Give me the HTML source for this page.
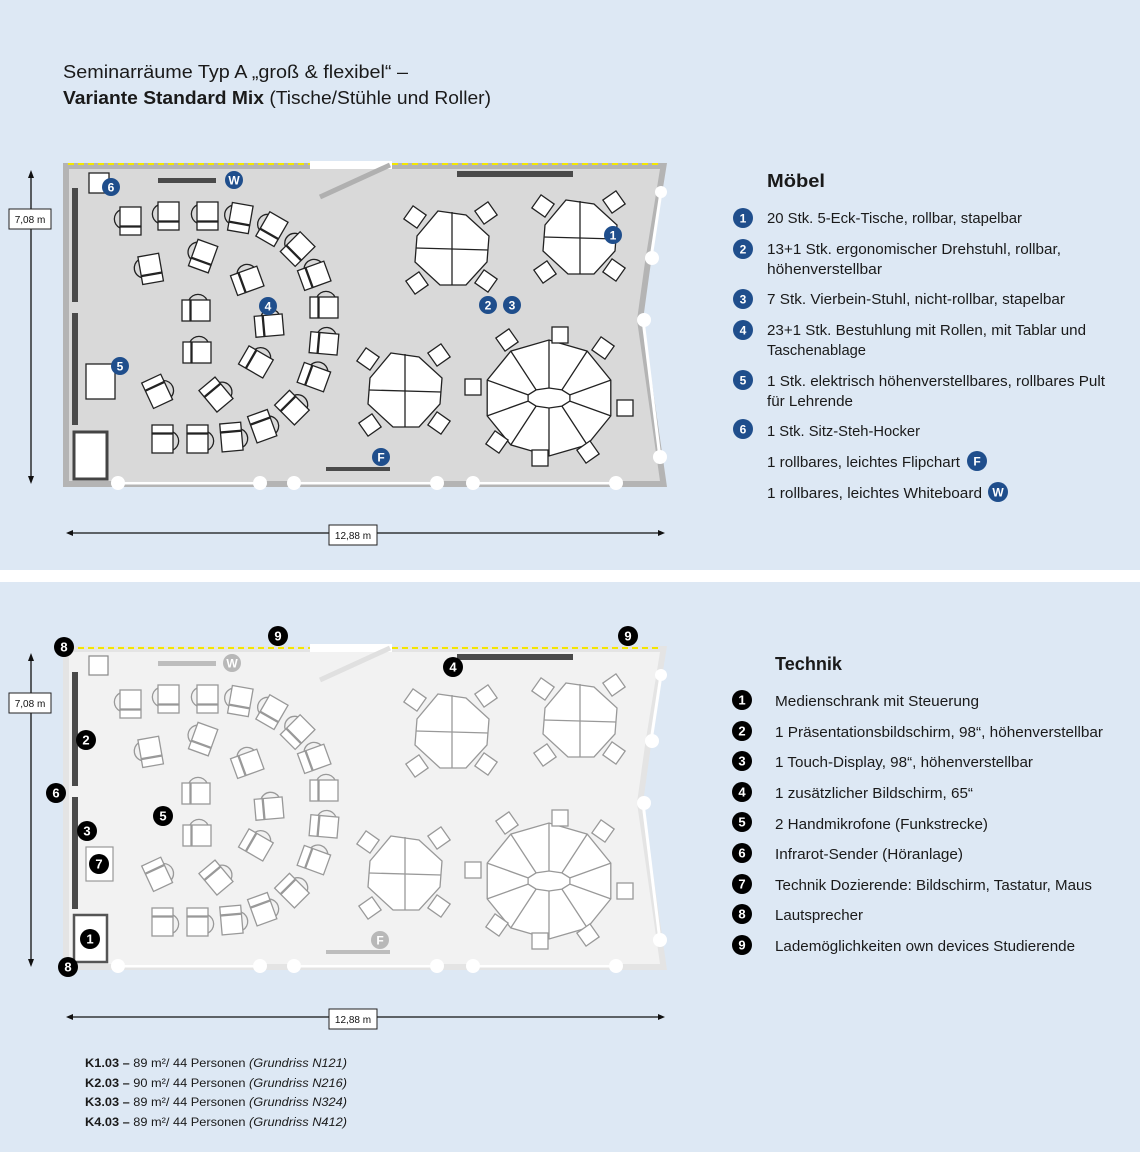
<!DOCTYPE html>
<html><head><meta charset="utf-8"><style>
html,body{margin:0;padding:0;background:#dde8f4;}
svg{display:block;font-family:"Liberation Sans",sans-serif;}
</style></head><body>
<svg width="1140" height="1152" viewBox="0 0 1140 1152" xmlns="http://www.w3.org/2000/svg" xmlns:xlink="http://www.w3.org/1999/xlink">
<defs>
<g id="ch" fill="#fff" stroke-width="1.3">
  <path d="M-10,-10 A10,10 0 0 0 -10,8" fill="none"/>
  <rect x="-10" y="-13" width="21" height="19"/>
  <rect x="-10" y="7" width="21" height="8"/>
</g>
<rect id="sq" x="-8" y="-8" width="16" height="16" fill="#fff" stroke-width="1.3"/>
<g id="pc" fill="#fff" stroke-width="1.3">
  <polygon points="-14,-37 14,-33 37,-12 35,14 14,37 -12,37 -37,14 -35,-12"/>
  <line x1="0" y1="-36" x2="0" y2="37"/><line x1="-36" y1="0" x2="36" y2="2"/>
  <use xlink:href="#sq" transform="translate(-37,-31) rotate(35)"/>
  <use xlink:href="#sq" transform="translate(34,-35) rotate(-35)"/>
  <use xlink:href="#sq" transform="translate(-35,35) rotate(-35)"/>
  <use xlink:href="#sq" transform="translate(34,33) rotate(35)"/>
</g>
<g id="furn">
  <use xlink:href="#ch" transform="translate(130,220) rotate(0)"/>
  <use xlink:href="#ch" transform="translate(168,215) rotate(0)"/>
  <use xlink:href="#ch" transform="translate(207,215) rotate(0)"/>
  <use xlink:href="#ch" transform="translate(240,217) rotate(10)"/>
  <use xlink:href="#ch" transform="translate(272,228) rotate(30)"/>
  <use xlink:href="#ch" transform="translate(298,248) rotate(45)"/>
  <use xlink:href="#ch" transform="translate(315,275) rotate(70)"/>
  <use xlink:href="#ch" transform="translate(325,307) rotate(90)"/>
  <use xlink:href="#ch" transform="translate(325,343) rotate(95)"/>
  <use xlink:href="#ch" transform="translate(315,377) rotate(110)"/>
  <use xlink:href="#ch" transform="translate(293,408) rotate(135)"/>
  <use xlink:href="#ch" transform="translate(263,427) rotate(160)"/>
  <use xlink:href="#ch" transform="translate(232,438) rotate(175)"/>
  <use xlink:href="#ch" transform="translate(198,440) rotate(180)"/>
  <use xlink:href="#ch" transform="translate(163,440) rotate(180)"/>
  <use xlink:href="#ch" transform="translate(150,268) rotate(-10)"/>
  <use xlink:href="#ch" transform="translate(203,255) rotate(20)"/>
  <use xlink:href="#ch" transform="translate(248,280) rotate(70)"/>
  <use xlink:href="#ch" transform="translate(197,310) rotate(90)"/>
  <use xlink:href="#ch" transform="translate(270,325) rotate(85)"/>
  <use xlink:href="#ch" transform="translate(198,352) rotate(90)"/>
  <use xlink:href="#ch" transform="translate(257,362) rotate(120)"/>
  <use xlink:href="#ch" transform="translate(158,392) rotate(155)"/>
  <use xlink:href="#ch" transform="translate(217,395) rotate(140)"/>
  <use xlink:href="#pc" transform="translate(452,248)"/>
  <use xlink:href="#pc" transform="translate(580,237)"/>
  <use xlink:href="#pc" transform="translate(405,390)"/>
  <g fill="#fff" stroke-width="1.3">
    <polygon points="610.8,415.9 587.2,444.9 549,456 510.8,444.9 487.2,415.9 487.2,380.1 510.8,351.1 549,340 587.2,351.1 610.8,380.1"/>
    <polygon points="569.9,401.1 561.9,406.1 549,408 536.1,406.1 528.1,401.1 528.1,394.9 536.1,389.9 549,388 561.9,389.9 569.9,394.9"/>
    <path d="M569.9,401.1L610.8,415.9M561.9,406.1L587.2,444.9M549,408L549,456M536.1,406.1L510.8,444.9M528.1,401.1L487.2,415.9M528.1,394.9L487.2,380.1M536.1,389.9L510.8,351.1M549,388L549,340M561.9,389.9L587.2,351.1M569.9,394.9L610.8,380.1"/>
  </g>
  <use xlink:href="#sq" transform="translate(560,335)"/>
  <use xlink:href="#sq" transform="translate(507,340) rotate(-35)"/>
  <use xlink:href="#sq" transform="translate(603,348) rotate(35)"/>
  <use xlink:href="#sq" transform="translate(473,387)"/>
  <use xlink:href="#sq" transform="translate(625,408)"/>
  <use xlink:href="#sq" transform="translate(497,442) rotate(35)"/>
  <use xlink:href="#sq" transform="translate(540,458)"/>
  <use xlink:href="#sq" transform="translate(588,452) rotate(-35)"/>
</g>
</defs>

<rect x="0" y="570" width="1140" height="12" fill="#fff"/>

<!-- title -->
<text x="63" y="78" font-size="18" fill="#1a1a1a" textLength="345" lengthAdjust="spacingAndGlyphs">Seminarräume Typ A „groß &amp; flexibel“ –</text>
<text x="63" y="104" font-size="18" fill="#1a1a1a" textLength="428" lengthAdjust="spacingAndGlyphs"><tspan font-weight="bold">Variante Standard Mix</tspan> (Tische/Stühle und Roller)</text>

<!-- TOP ROOM -->
<g>
  <polygon points="63,163 667,163 651,262 643,320 667,487 63,487" fill="#b4b4b4"/>
  <polygon points="69,169 660,169 645,262 637,320 660,481 69,481" fill="#d9d9d9"/>
  <rect x="310" y="161" width="82" height="8" fill="#fff"/>
  <line x1="320" y1="197" x2="390" y2="165" stroke="#b0b0b0" stroke-width="5"/>
  <line x1="68" y1="164" x2="310" y2="164" stroke="#f2e600" stroke-width="2" stroke-dasharray="6,4"/>
  <line x1="392" y1="164" x2="662" y2="164" stroke="#f2e600" stroke-width="2" stroke-dasharray="6,4"/>
  <g stroke="#fff" stroke-width="3">
    <line x1="118" y1="483" x2="260" y2="483"/><line x1="294" y1="483" x2="437" y2="483"/><line x1="473" y1="483" x2="616" y2="483"/>
    <line x1="661" y1="192" x2="651" y2="258"/><line x1="643" y1="320" x2="660" y2="458"/>
  </g>
  <g fill="#fff">
    <circle cx="118" cy="483" r="7"/><circle cx="260" cy="483" r="7"/><circle cx="294" cy="483" r="7"/><circle cx="437" cy="483" r="7"/><circle cx="473" cy="483" r="7"/><circle cx="616" cy="483" r="7"/>
    <circle cx="661" cy="192" r="6"/><circle cx="652" cy="258" r="7"/><circle cx="644" cy="320" r="7"/><circle cx="660" cy="457" r="7"/>
  </g>
  <g fill="#4a4a4a">
    <rect x="72" y="188" width="6" height="114"/><rect x="72" y="313" width="6" height="112"/>
    <rect x="158" y="178" width="58" height="5"/><rect x="457" y="171" width="116" height="6"/><rect x="326" y="467" width="64" height="4"/>
  </g>
  <rect x="89" y="173" width="20" height="20" fill="#fff" stroke="#222" stroke-width="1.3"/>
  <rect x="86" y="364" width="29" height="35" fill="#fff" stroke="#222" stroke-width="1.3"/>
  <rect x="74" y="432" width="33" height="47" fill="#fff" stroke="#444" stroke-width="3"/>
  <use xlink:href="#furn" stroke="#222"/>
  <g font-size="12" fill="#fff" text-anchor="middle" font-weight="bold">
    <circle cx="111" cy="187" r="9" fill="#1f4e8c"/><text x="111" y="191.5">6</text>
    <circle cx="234" cy="180" r="9" fill="#1f4e8c"/><text x="234" y="184.5">W</text>
    <circle cx="613" cy="235" r="9" fill="#1f4e8c"/><text x="613" y="239.5">1</text>
    <circle cx="488" cy="305" r="9" fill="#1f4e8c"/><text x="488" y="309.5">2</text>
    <circle cx="512" cy="305" r="9" fill="#1f4e8c"/><text x="512" y="309.5">3</text>
    <circle cx="268" cy="306" r="9" fill="#1f4e8c"/><text x="268" y="310.5">4</text>
    <circle cx="120" cy="366" r="9" fill="#1f4e8c"/><text x="120" y="370.5">5</text>
    <circle cx="381" cy="457" r="9" fill="#1f4e8c"/><text x="381" y="461.5">F</text>
  </g>
</g>

<!-- dims top -->
<g stroke="#111" stroke-width="1.3" fill="#111">
  <line x1="31" y1="176" x2="31" y2="478"/>
  <polygon points="31,170 28,178 34,178" stroke="none"/><polygon points="31,484 28,476 34,476" stroke="none"/>
  <line x1="70" y1="533" x2="660" y2="533"/>
  <polygon points="66,533 73,530 73,536" stroke="none"/><polygon points="665,533 658,530 658,536" stroke="none"/>
  <line x1="31" y1="659" x2="31" y2="961"/>
  <polygon points="31,653 28,661 34,661" stroke="none"/><polygon points="31,967 28,959 34,959" stroke="none"/>
  <line x1="70" y1="1017" x2="660" y2="1017"/>
  <polygon points="66,1017 73,1014 73,1020" stroke="none"/><polygon points="665,1017 658,1014 658,1020" stroke="none"/>
</g>
<g font-size="10" fill="#111" text-anchor="middle">
  <rect x="9" y="209" width="42" height="20" fill="#fff" stroke="#222"/><text x="30" y="223">7,08 m</text>
  <rect x="329" y="525" width="48" height="20" fill="#fff" stroke="#222"/><text x="353" y="539">12,88 m</text>
  <rect x="9" y="693" width="42" height="20" fill="#fff" stroke="#222"/><text x="30" y="707">7,08 m</text>
  <rect x="329" y="1009" width="48" height="20" fill="#fff" stroke="#222"/><text x="353" y="1023">12,88 m</text>
</g>

<!-- BOTTOM ROOM -->
<g>
  <g transform="translate(0,483)">
    <polygon points="63,163 667,163 651,262 643,320 667,487 63,487" fill="#e4e4e4"/>
    <polygon points="69,169 660,169 645,262 637,320 660,481 69,481" fill="#f2f2f2"/>
    <rect x="310" y="161" width="82" height="8" fill="#fff"/>
    <line x1="320" y1="197" x2="390" y2="165" stroke="#e0e0e0" stroke-width="5"/>
    <line x1="68" y1="165" x2="310" y2="165" stroke="#f2e600" stroke-width="2" stroke-dasharray="6,4"/>
    <line x1="392" y1="165" x2="662" y2="165" stroke="#f2e600" stroke-width="2" stroke-dasharray="6,4"/>
    <g stroke="#fff" stroke-width="3">
      <line x1="118" y1="483" x2="260" y2="483"/><line x1="294" y1="483" x2="437" y2="483"/><line x1="473" y1="483" x2="616" y2="483"/>
      <line x1="661" y1="192" x2="651" y2="258"/><line x1="643" y1="320" x2="660" y2="458"/>
    </g>
    <g fill="#fff">
      <circle cx="118" cy="483" r="7"/><circle cx="260" cy="483" r="7"/><circle cx="294" cy="483" r="7"/><circle cx="437" cy="483" r="7"/><circle cx="473" cy="483" r="7"/><circle cx="616" cy="483" r="7"/>
      <circle cx="661" cy="192" r="6"/><circle cx="652" cy="258" r="7"/><circle cx="644" cy="320" r="7"/><circle cx="660" cy="457" r="7"/>
    </g>
    <g fill="#4a4a4a">
      <rect x="72" y="189" width="6" height="114"/><rect x="72" y="314" width="6" height="112"/>
      <rect x="457" y="171" width="116" height="6"/>
    </g>
    <g fill="#bdbdbd"><rect x="158" y="178" width="58" height="5"/><rect x="326" y="467" width="64" height="4"/></g>
    <rect x="89" y="173" width="19" height="19" fill="#fff" stroke="#888" stroke-width="1.2"/>
    <rect x="86" y="364" width="27" height="34" fill="#fff" stroke="#999" stroke-width="1.2"/>
    <rect x="74" y="432" width="33" height="47" fill="#fff" stroke="#555" stroke-width="2.5"/>
    <use xlink:href="#furn" stroke="#999"/>
    <g font-size="12" fill="#fff" text-anchor="middle" font-weight="bold">
      <circle cx="232" cy="180" r="9" fill="#b8b8b8"/><text x="232" y="184.5">W</text>
      <circle cx="380" cy="457" r="9" fill="#b8b8b8"/><text x="380" y="461.5">F</text>
    </g>
  </g>
  <g font-size="13" fill="#fff" text-anchor="middle" font-weight="bold">
    <circle cx="64" cy="647" r="10" fill="#000"/><text x="64" y="651.5">8</text>
    <circle cx="68" cy="967" r="10" fill="#000"/><text x="68" y="971.5">8</text>
    <circle cx="278" cy="636" r="10" fill="#000"/><text x="278" y="640.5">9</text>
    <circle cx="628" cy="636" r="10" fill="#000"/><text x="628" y="640.5">9</text>
    <circle cx="453" cy="667" r="10" fill="#000"/><text x="453" y="671.5">4</text>
    <circle cx="86" cy="740" r="10" fill="#000"/><text x="86" y="744.5">2</text>
    <circle cx="56" cy="793" r="10" fill="#000"/><text x="56" y="797.5">6</text>
    <circle cx="87" cy="831" r="10" fill="#000"/><text x="87" y="835.5">3</text>
    <circle cx="163" cy="816" r="10" fill="#000"/><text x="163" y="820.5">5</text>
    <circle cx="99" cy="864" r="10" fill="#000"/><text x="99" y="868.5">7</text>
    <circle cx="90" cy="939" r="10" fill="#000"/><text x="90" y="943.5">1</text>
  </g>
</g>

<!-- Möbel legend -->
<g fill="#1a1a1a" font-size="15">
  <text x="767" y="187" font-size="18" font-weight="bold" textLength="58" lengthAdjust="spacingAndGlyphs">Möbel</text>
  <text x="767" y="223" textLength="255" lengthAdjust="spacingAndGlyphs">20 Stk. 5-Eck-Tische, rollbar, stapelbar</text>
  <text x="767" y="254" textLength="294" lengthAdjust="spacingAndGlyphs">13+1 Stk. ergonomischer Drehstuhl, rollbar,</text>
  <text x="767" y="274" textLength="115" lengthAdjust="spacingAndGlyphs">höhenverstellbar</text>
  <text x="767" y="304" textLength="298" lengthAdjust="spacingAndGlyphs">7 Stk. Vierbein-Stuhl, nicht-rollbar, stapelbar</text>
  <text x="767" y="335" textLength="319" lengthAdjust="spacingAndGlyphs">23+1 Stk. Bestuhlung mit Rollen, mit Tablar und</text>
  <text x="767" y="355" textLength="99" lengthAdjust="spacingAndGlyphs">Taschenablage</text>
  <text x="767" y="386" textLength="338" lengthAdjust="spacingAndGlyphs">1 Stk. elektrisch höhenverstellbares, rollbares Pult</text>
  <text x="767" y="406" textLength="86" lengthAdjust="spacingAndGlyphs">für Lehrende</text>
  <text x="767" y="436" textLength="153" lengthAdjust="spacingAndGlyphs">1 Stk. Sitz-Steh-Hocker</text>
  <text x="767" y="467" textLength="193" lengthAdjust="spacingAndGlyphs">1 rollbares, leichtes Flipchart</text>
  <text x="767" y="498" textLength="215" lengthAdjust="spacingAndGlyphs">1 rollbares, leichtes Whiteboard</text>
</g>
<g font-size="12" fill="#fff" text-anchor="middle" font-weight="bold">
  <circle cx="743" cy="218" r="10" fill="#1f4e8c"/><text x="743" y="222.5">1</text>
  <circle cx="743" cy="249" r="10" fill="#1f4e8c"/><text x="743" y="253.5">2</text>
  <circle cx="743" cy="299" r="10" fill="#1f4e8c"/><text x="743" y="303.5">3</text>
  <circle cx="743" cy="330" r="10" fill="#1f4e8c"/><text x="743" y="334.5">4</text>
  <circle cx="743" cy="380" r="10" fill="#1f4e8c"/><text x="743" y="384.5">5</text>
  <circle cx="743" cy="429" r="10" fill="#1f4e8c"/><text x="743" y="433.5">6</text>
  <circle cx="977" cy="461" r="10" fill="#1f4e8c"/><text x="977" y="465.5">F</text>
  <circle cx="998" cy="492" r="10" fill="#1f4e8c"/><text x="998" y="496.5">W</text>
</g>

<!-- Technik legend -->
<g fill="#1a1a1a" font-size="15">
  <text x="775" y="670" font-size="18" font-weight="bold" textLength="67" lengthAdjust="spacingAndGlyphs">Technik</text>
  <text x="775" y="706" textLength="204" lengthAdjust="spacingAndGlyphs">Medienschrank mit Steuerung</text>
  <text x="775" y="737" textLength="328" lengthAdjust="spacingAndGlyphs">1 Präsentationsbildschirm, 98“, höhenverstellbar</text>
  <text x="775" y="767" textLength="258" lengthAdjust="spacingAndGlyphs">1 Touch-Display, 98“, höhenverstellbar</text>
  <text x="775" y="798" textLength="198" lengthAdjust="spacingAndGlyphs">1 zusätzlicher Bildschirm, 65“</text>
  <text x="775" y="829" textLength="213" lengthAdjust="spacingAndGlyphs">2 Handmikrofone (Funkstrecke)</text>
  <text x="775" y="859" textLength="188" lengthAdjust="spacingAndGlyphs">Infrarot-Sender (Höranlage)</text>
  <text x="775" y="890" textLength="317" lengthAdjust="spacingAndGlyphs">Technik Dozierende: Bildschirm, Tastatur, Maus</text>
  <text x="775" y="920" textLength="88" lengthAdjust="spacingAndGlyphs">Lautsprecher</text>
  <text x="775" y="951" textLength="300" lengthAdjust="spacingAndGlyphs">Lademöglichkeiten own devices Studierende</text>
</g>
<g font-size="13" fill="#fff" text-anchor="middle" font-weight="bold">
  <circle cx="742" cy="700" r="10" fill="#000"/><text x="742" y="704.5">1</text>
  <circle cx="742" cy="731" r="10" fill="#000"/><text x="742" y="735.5">2</text>
  <circle cx="742" cy="761" r="10" fill="#000"/><text x="742" y="765.5">3</text>
  <circle cx="742" cy="792" r="10" fill="#000"/><text x="742" y="796.5">4</text>
  <circle cx="742" cy="822" r="10" fill="#000"/><text x="742" y="826.5">5</text>
  <circle cx="742" cy="853" r="10" fill="#000"/><text x="742" y="857.5">6</text>
  <circle cx="742" cy="884" r="10" fill="#000"/><text x="742" y="888.5">7</text>
  <circle cx="742" cy="914" r="10" fill="#000"/><text x="742" y="918.5">8</text>
  <circle cx="742" cy="945" r="10" fill="#000"/><text x="742" y="949.5">9</text>
</g>

<!-- room refs -->
<g font-size="12" fill="#1a1a1a">
  <text x="85" y="1067" textLength="262" lengthAdjust="spacingAndGlyphs"><tspan font-weight="bold">K1.03 –</tspan> 89 m²/ 44 Personen <tspan font-style="italic">(Grundriss  N121)</tspan></text>
  <text x="85" y="1087" textLength="262" lengthAdjust="spacingAndGlyphs"><tspan font-weight="bold">K2.03 –</tspan> 90 m²/ 44 Personen <tspan font-style="italic">(Grundriss  N216)</tspan></text>
  <text x="85" y="1106" textLength="262" lengthAdjust="spacingAndGlyphs"><tspan font-weight="bold">K3.03 –</tspan> 89 m²/ 44 Personen <tspan font-style="italic">(Grundriss  N324)</tspan></text>
  <text x="85" y="1126" textLength="262" lengthAdjust="spacingAndGlyphs"><tspan font-weight="bold">K4.03 –</tspan> 89 m²/ 44 Personen <tspan font-style="italic">(Grundriss  N412)</tspan></text>
</g>
</svg>
</body></html>
